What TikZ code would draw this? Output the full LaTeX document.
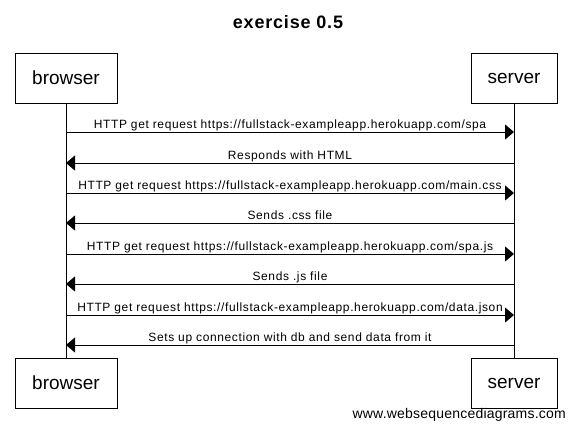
\documentclass[tikz,border=0pt]{standalone}
\usepackage{fontspec}
\setmainfont{Liberation Sans}
\usetikzlibrary{arrows.meta}

\tikzset{
  actor/.style={draw, line width=1pt, minimum height=50pt, inner sep=0pt, font=\fontsize{19}{22}\selectfont},
  msg/.style={line width=1pt, -{Triangle[length=9pt,width=15pt]}},
  msglabel/.style={above, inner sep=0.5pt, text height=9pt, text depth=2.5pt, font=\fontsize{12}{14}\selectfont\addfontfeature{LetterSpace=5.2}},
  life/.style={line width=1pt}
}

\begin{document}
\begin{tikzpicture}[x=1pt,y=-1pt]
  \useasboundingbox (0,0) rectangle (572,432);
  \node[font=\bfseries\fontsize{18}{21}\selectfont\addfontfeature{LetterSpace=4.5}] (title) at (288,22) {exercise 0.5};

  \node[actor, minimum width=102pt] (browser) at (66,78) {browser};
  \node[actor, minimum width=86pt] (server) at (514,78) {server};
  \node[actor, minimum width=102pt] (browserb) at (66,383) {browser};
  \node[actor, minimum width=86pt] (serverb) at (514,383) {server};
  \draw[life] (browser) -- (browserb);
  \draw[life] (server) -- (serverb);

  % messages
  \coordinate (b1) at (66,132); \coordinate (s1) at (514,132);
  \coordinate (b2) at (66,163); \coordinate (s2) at (514,163);
  \coordinate (b3) at (66,193); \coordinate (s3) at (514,193);
  \coordinate (b4) at (66,223); \coordinate (s4) at (514,223);
  \coordinate (b5) at (66,254); \coordinate (s5) at (514,254);
  \coordinate (b6) at (66,284); \coordinate (s6) at (514,284);
  \coordinate (b7) at (66,315); \coordinate (s7) at (514,315);
  \coordinate (b8) at (66,345); \coordinate (s8) at (514,345);

  \draw[msg] (b1) -- node[msglabel] {HTTP get request https://fullstack-exampleapp.herokuapp.com/spa} (s1);
  \draw[msg] (s2) -- node[msglabel] {Responds with HTML} (b2);
  \draw[msg] (b3) -- node[msglabel] {HTTP get request https://fullstack-exampleapp.herokuapp.com/main.css} (s3);
  \draw[msg] (s4) -- node[msglabel] {Sends .css file} (b4);
  \draw[msg] (b5) -- node[msglabel] {HTTP get request https://fullstack-exampleapp.herokuapp.com/spa.js} (s5);
  \draw[msg] (s6) -- node[msglabel] {Sends .js file} (b6);
  \draw[msg] (b7) -- node[msglabel] {HTTP get request https://fullstack-exampleapp.herokuapp.com/data.json} (s7);
  \draw[msg] (s8) -- node[msglabel] {Sets up connection with db and send data from it} (b8);

  \node[anchor=east, inner sep=0pt, font=\fontsize{14}{16}\selectfont\addfontfeature{LetterSpace=1.5}] (credit) at (566,415) {www.websequencediagrams.com};
\end{tikzpicture}
\end{document}
